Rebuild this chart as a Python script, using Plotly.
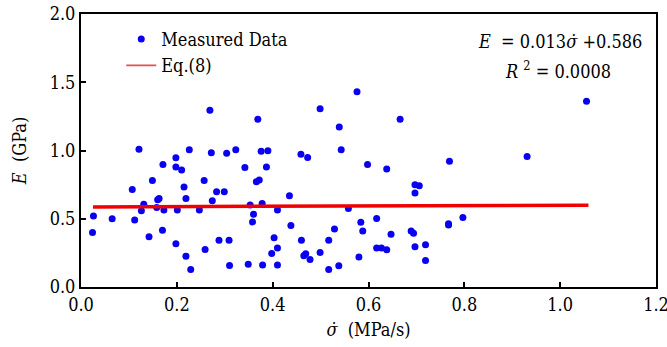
import plotly.graph_objects as go

# Measured data: stress rate (MPa/s) and elastic modulus E (GPa)
stress_rate = [
    0.024, 0.026, 0.065, 0.107, 0.112, 0.121, 0.126, 0.131, 0.142, 0.149,
    0.160, 0.163, 0.158, 0.171, 0.173, 0.170, 0.198, 0.198, 0.198, 0.201,
    0.210, 0.215, 0.219, 0.219, 0.226, 0.229, 0.247, 0.257, 0.259, 0.269,
    0.272, 0.274, 0.283, 0.288, 0.299, 0.304, 0.309, 0.310, 0.323, 0.342,
    0.349, 0.353, 0.360, 0.358, 0.366, 0.372, 0.369, 0.376, 0.378, 0.379,
    0.387, 0.390, 0.398, 0.403, 0.410, 0.410, 0.410, 0.435, 0.438, 0.459,
    0.460, 0.465, 0.469, 0.473, 0.478, 0.499, 0.499, 0.517, 0.517, 0.529,
    0.538, 0.539, 0.543, 0.558, 0.576, 0.580, 0.584, 0.588, 0.598, 0.617,
    0.617, 0.627, 0.638, 0.638, 0.647, 0.666, 0.689, 0.694, 0.697, 0.706,
    0.697, 0.697, 0.719, 0.719, 0.767, 0.767, 0.769, 0.797, 0.931, 1.055,
]
modulus = [
    0.400, 0.520, 0.500, 0.715, 0.490, 1.010, 0.558, 0.607, 0.369, 0.781,
    0.639, 0.649, 0.582, 0.897, 0.565, 0.415, 0.317, 0.946, 0.880, 0.565,
    0.857, 0.732, 0.226, 0.649, 1.005, 0.128, 0.565, 0.781, 0.275, 1.295,
    0.983, 0.631, 0.698, 0.342, 0.698, 0.980, 0.342, 0.157, 1.005, 0.875,
    0.167, 0.600, 0.533, 0.477, 0.771, 0.784, 1.229, 0.995, 0.612, 0.162,
    0.880, 0.998, 0.246, 0.361, 0.285, 0.565, 0.162, 0.668, 0.450, 0.973,
    0.342, 0.229, 0.243, 0.948, 0.201, 1.305, 0.253, 0.128, 0.342, 0.425,
    0.155, 1.172, 1.005, 0.575, 1.430, 0.219, 0.474, 0.410, 0.897, 0.501,
    0.285, 0.285, 0.273, 0.865, 0.386, 1.229, 0.410, 0.393, 0.749, 0.742,
    0.688, 0.295, 0.310, 0.194, 0.464, 0.455, 0.921, 0.509, 0.956, 1.361,
]

# Fitted line Eq.(8): E = 0.013*rate + 0.586
fit_slope = 0.013
fit_intercept = 0.586
fit_x = [0.025, 1.059]
fit_y = [fit_slope * v + fit_intercept for v in fit_x]

x_ticks = [0.0, 0.2, 0.4, 0.6, 0.8, 1.0, 1.2]
y_ticks = [0.0, 0.5, 1.0, 1.5, 2.0]

FONT = "DejaVu Serif Condensed, DejaVu Serif"
FS = 18
BLUE = "#0a00f0"
RED = "#f00000"
SIGMA_DOT = "σ\u0307"

fig = go.Figure()
fig.add_trace(go.Scatter(
    x=stress_rate, y=modulus, mode="markers", name="Measured Data",
    marker=dict(color=BLUE, size=7, line=dict(width=0)),
))
fig.add_trace(go.Scatter(
    x=fit_x, y=fit_y, mode="lines", name="Eq.(8)", showlegend=False,
    line=dict(color=RED, width=3.5),
))
# legend entry for the fit line (thin, as in the reference legend)
fig.add_trace(go.Scatter(
    x=[None], y=[None], mode="lines", name="Eq.(8)",
    line=dict(color="#e05050", width=1.8),
))

fig.update_layout(
    width=667, height=347,
    margin=dict(l=81, r=11, t=14, b=60, autoexpand=False),
    paper_bgcolor="white", plot_bgcolor="white",
    font=dict(family=FONT, size=FS, color="black"),
    showlegend=True,
    legend=dict(
        x=0.07, y=0.975, xanchor="left", yanchor="top",
        bgcolor="rgba(0,0,0,0)", borderwidth=0,
        font=dict(family=FONT, size=FS, color="black"),
        tracegroupgap=0, itemwidth=30,
    ),
    xaxis=dict(
        range=[0, 1.2], tickvals=x_ticks, ticktext=[f"{v:.1f}" for v in x_ticks],
        ticks="inside", ticklen=5, tickwidth=1.5, tickcolor="black",
        tickfont=dict(family=FONT, size=FS, color="black"),
        ticklabeloverflow="allow",
        showline=True, linecolor="black", linewidth=2, mirror=True,
        showgrid=False, zeroline=False, automargin=False,
        title=dict(text=f"<i>{SIGMA_DOT}</i>  (MPa/s)", standoff=10,
                   font=dict(family=FONT, size=FS, color="black")),
    ),
    yaxis=dict(
        range=[0, 2.0], tickvals=y_ticks, ticktext=[f"{v:.1f}" for v in y_ticks],
        ticks="inside", ticklen=5, tickwidth=1.5, tickcolor="black",
        tickfont=dict(family=FONT, size=FS, color="black"),
        ticklabeloverflow="allow",
        showline=True, linecolor="black", linewidth=2, mirror=True,
        showgrid=False, zeroline=False, automargin=False,
        title=dict(text="<i>E</i>  (GPa)", standoff=18,
                   font=dict(family=FONT, size=FS, color="black")),
    ),
)

fig.add_annotation(
    xref="paper", yref="paper", x=0.979, y=0.9, xanchor="right", yanchor="middle",
    text=f"<i>E</i>  = 0.013<i>{SIGMA_DOT}</i> +0.586", showarrow=False,
    font=dict(family=FONT, size=FS, color="black"),
)
fig.add_annotation(
    xref="paper", yref="paper", x=0.925, y=0.795, xanchor="right", yanchor="middle",
    text="<i>R</i> <sup>2</sup> = 0.0008", showarrow=False,
    font=dict(family=FONT, size=FS, color="black"),
)

fig.write_html("out.html")
